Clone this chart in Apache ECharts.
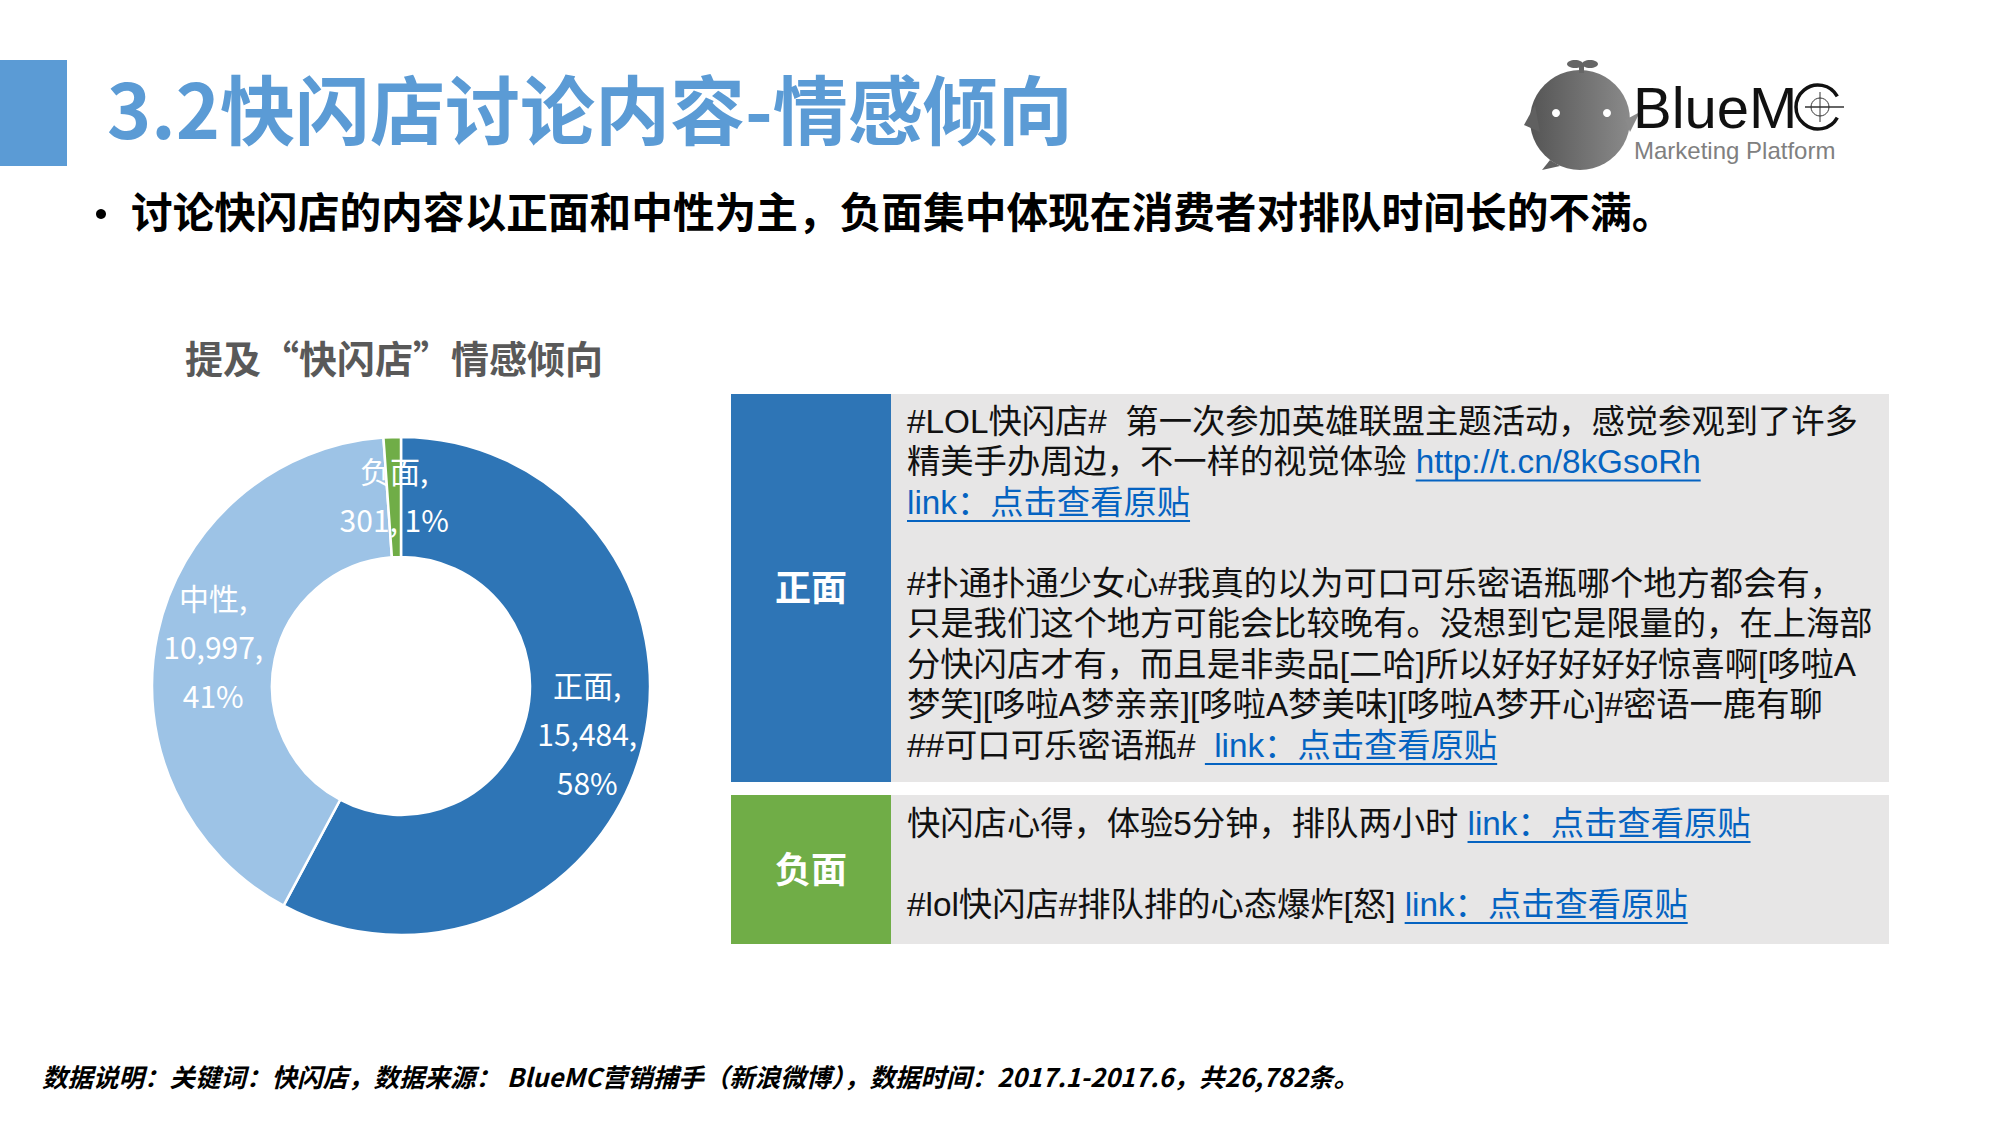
<!DOCTYPE html>
<html>
<head>
<meta charset="utf-8">
<script src="https://cdn.jsdelivr.net/npm/echarts@6/dist/echarts.min.js"></script>
<style>
html,body{margin:0;padding:0;background:#fff;}
#main{width:2000px;height:1125px;}
</style>
</head>
<body>
<div id="main"></div>
<script>
// ---- data ----
const categories = ['正面', '中性', '负面'];
const values = [15484, 10997, 301];
const sliceColors = ['#2E75B6', '#9DC3E6', '#70AD47'];

const pageTitle = '3.2快闪店讨论内容-情感倾向';
const bulletText = '讨论快闪店的内容以正面和中性为主，负面集中体现在消费者对排队时间长的不满。';
const chartTitle = '提及“快闪店”情感倾向';
const footerText = '数据说明：关键词：快闪店，数据来源： BlueMC营销捕手（新浪微博），数据时间：2017.1-2017.6，共26,782条。';

// each line: list of [text, isLink]
const positiveLines = [
  [['#LOL快闪店#  第一次参加英雄联盟主题活动，感觉参观到了许多', false]],
  [['精美手办周边，不一样的视觉体验 ', false], ['http://t.cn/8kGsoRh', true]],
  [['link：点击查看原贴', true]],
  [],
  [['#扑通扑通少女心#我真的以为可口可乐密语瓶哪个地方都会有，', false]],
  [['只是我们这个地方可能会比较晚有。没想到它是限量的，在上海部', false]],
  [['分快闪店才有，而且是非卖品[二哈]所以好好好好好惊喜啊[哆啦A', false]],
  [['梦笑][哆啦A梦亲亲][哆啦A梦美味][哆啦A梦开心]#密语一鹿有聊', false]],
  [['##可口可乐密语瓶# ', false], [' link：点击查看原贴', true]]
];
const negativeLines = [
  [['快闪店心得，体验5分钟，排队两小时 ', false], ['link：点击查看原贴', true]],
  [],
  [['#lol快闪店#排队排的心态爆炸[怒] ', false], ['link：点击查看原贴', true]]
];

// ---- helpers ----
const FF = "'Noto Sans CJK SC', 'Microsoft YaHei', sans-serif";
const FT = "'Liberation Sans', 'Noto Sans CJK SC', sans-serif"; // table text
const ctx = document.createElement('canvas').getContext('2d');
function measure(text, size, family) {
  ctx.font = 'normal ' + size + 'px ' + family;
  return ctx.measureText(text).width;
}
function txt(x, y, text, font, fill, extra) {
  const st = Object.assign({text:text, font:font, fill:fill, textVerticalAlign:'middle'}, extra || {});
  return {type:'text', x:x, y:y, style:st};
}

const graphics = [];
// header bar and title
graphics.push({type:'rect', shape:{x:0, y:60, width:67, height:106}, style:{fill:'#5B9BD5'}});
graphics.push(txt(107, 106, pageTitle, 'bold 75px ' + FF, '#5B9BD5', {lineHeight:80}));
graphics.push({type:'circle', shape:{cx:101, cy:214, r:5}, style:{fill:'#000'}});
graphics.push(txt(131, 210, bulletText, 'bold 41.7px ' + FF, '#000', {lineHeight:46}));

// logo
graphics.push({type:'group', children:[
  {type:'circle', shape:{cx:1580, cy:120, r:50}, style:{fill:{type:'linear', x:0, y:0, x2:1, y2:0, colorStops:[{offset:0, color:'#555'}, {offset:1, color:'#8a8a8a'}]}}},
  {type:'polygon', shape:{points:[[1535,105],[1524,125],[1540,132]]}, style:{fill:'#606060'}},
  {type:'polygon', shape:{points:[[1625,120],[1640,112],[1630,132]]}, style:{fill:'#8a8a8a'}},
  {type:'polygon', shape:{points:[[1550,160],[1542,170],[1560,166]]}, style:{fill:'#606060'}},
  {type:'rect', shape:{x:1579, y:63, width:5, height:10}, style:{fill:'#666'}},
  {type:'ellipse', shape:{cx:1575, cy:64, rx:8, ry:4}, style:{fill:'#666'}},
  {type:'ellipse', shape:{cx:1590, cy:64, rx:8, ry:4}, style:{fill:'#666'}},
  {type:'circle', shape:{cx:1556, cy:113, r:4}, style:{fill:'#fff'}},
  {type:'circle', shape:{cx:1607, cy:113, r:4}, style:{fill:'#fff'}}
]});
graphics.push(txt(1633, 107, 'BlueM', '58px "Liberation Sans", Arial, sans-serif', '#111', {lineHeight:60}));
graphics.push({type:'arc', shape:{cx:1818, cy:107, r:22, startAngle:0.5, endAngle:Math.PI*2-0.5}, style:{stroke:'#111', lineWidth:3.5, fill:null}});
graphics.push({type:'circle', shape:{cx:1820, cy:107, r:9}, style:{stroke:'#333', lineWidth:1, fill:null}});
graphics.push({type:'line', shape:{x1:1820, y1:92, x2:1820, y2:122}, style:{stroke:'#333', lineWidth:1}});
graphics.push({type:'line', shape:{x1:1805, y1:107, x2:1844, y2:107}, style:{stroke:'#333', lineWidth:1.5}});
graphics.push(txt(1634, 150, 'Marketing Platform', '24px "Liberation Sans", Arial, sans-serif', '#808080', {lineHeight:26}));

// chart title
graphics.push(txt(394, 356, chartTitle, 'bold 38px ' + FF, '#595959', {textAlign:'center', lineHeight:42}));

// table panels: one multi-line rich text block per panel
function panel(y, h, color, label, lines, firstY) {
  graphics.push({type:'rect', shape:{x:731, y:y, width:160, height:h}, style:{fill:color}});
  graphics.push({type:'rect', shape:{x:891, y:y, width:998, height:h}, style:{fill:'#E7E6E6'}});
  graphics.push(txt(811, y + h/2 - 3, label, 'bold 36px ' + FF, '#fff', {textAlign:'center', lineHeight:40}));
  const size = 33.3, LH = 40.5;
  const textLines = [];
  lines.forEach((segs, i) => {
    const ly = firstY + i * LH;
    let x = 907;
    let line = '';
    segs.forEach(([t, link]) => {
      const w = measure(t, size, FT);
      line += '{' + (link ? 'l' : 'n') + '|' + t + '}';
      if (link) {
        graphics.push({type:'line', shape:{x1:x, y1:ly + 19, x2:x + w, y2:ly + 19}, style:{stroke:'#0563C1', lineWidth:2}});
      }
      x += w;
    });
    textLines.push(line || '{n| }');
  });
  graphics.push({type:'text', x:907, y:firstY - LH/2, style:{
    text: textLines.join('\n'), textVerticalAlign:'top', font: size + 'px ' + FT, lineHeight: LH,
    rich: {
      n: {fill:'#111', fontSize:size, fontFamily:FT, lineHeight:LH},
      l: {fill:'#0563C1', fontSize:size, fontFamily:FT, lineHeight:LH}
    }
  }});
}
panel(394, 388, '#2E75B6', categories[0], positiveLines, 421);
panel(795, 149, '#70AD47', categories[2], negativeLines, 823);

// footer
graphics.push(txt(42, 1075, footerText, 'italic bold 25.5px ' + FF, '#000', {lineHeight:30}));

const chart = echarts.init(document.getElementById('main'), null, {renderer:'svg'});
chart.setOption({
  animation: false,
  backgroundColor: '#fff',
  graphic: graphics,
  series: [{
    type: 'pie',
    center: [401, 686],
    radius: [129, 249],
    startAngle: 90,
    clockwise: true,
    avoidLabelOverlap: false,
    silent: true,
    itemStyle: {borderColor:'#fff', borderWidth:2.5},
    label: {
      show: true,
      position: 'inside',
      color: '#fff',
      fontFamily: FF,
      fontSize: 30,
      lineHeight: 49,
      formatter: function (p) {
        const v = p.value.toLocaleString('en-US');
        const pct = Math.round(p.percent) + '%';
        if (p.name === '负面') return p.name + ',\n' + v + ', ' + pct;
        return p.name + ',\n' + v + ',\n' + pct;
      }
    },
    labelLine: {show:false},
    data: categories.map((c, i) => ({name:c, value:values[i], itemStyle:{color:sliceColors[i]}}))
  }]
});
</script>
</body>
</html>
